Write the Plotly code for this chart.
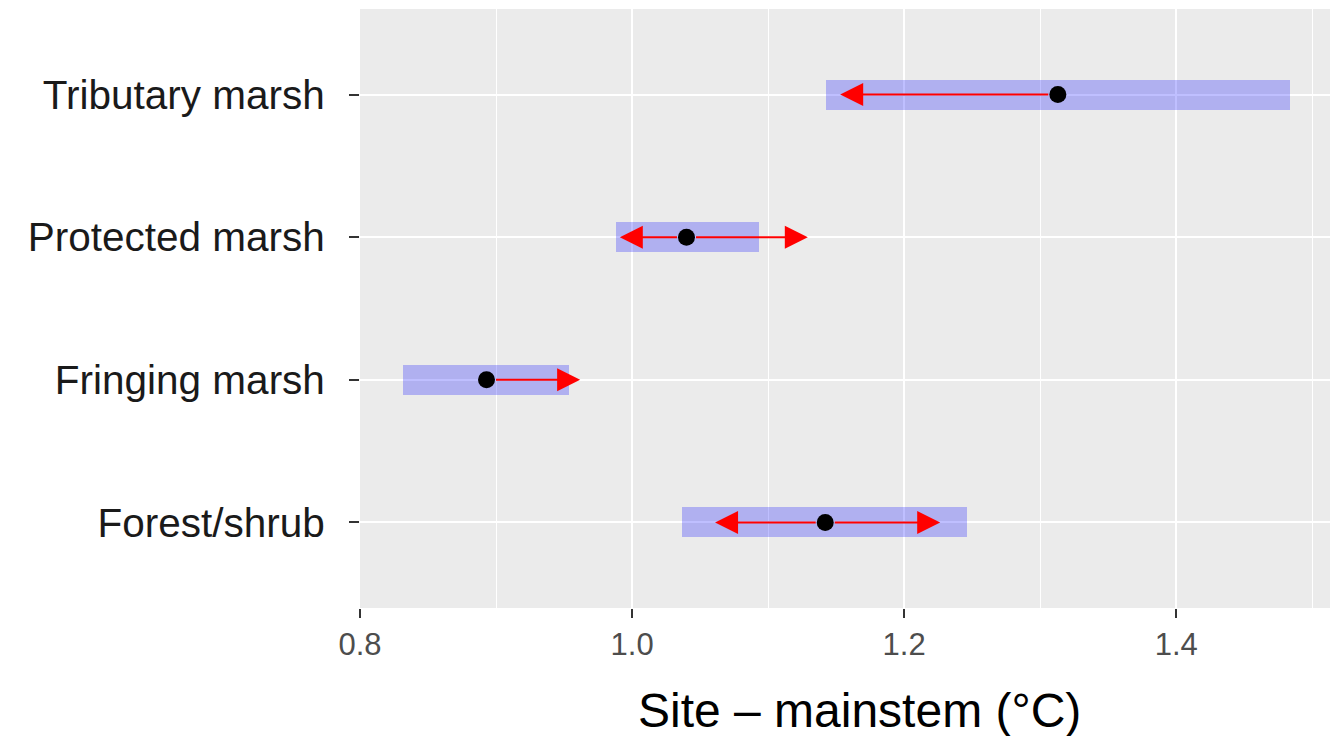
import plotly.graph_objects as go

# Data (bottom to top)
categories = ["Forest/shrub", "Fringing marsh", "Protected marsh", "Tributary marsh"]
emmean = [1.142, 0.893, 1.040, 1.313]
lower_cl = [1.0365, 0.8314, 0.988, 1.1426]
upper_cl = [1.2461, 0.9539, 1.0934, 1.4833]
arrow_left = [1.061, None, 0.991, 1.153]
arrow_right = [1.2265, 0.9618, 1.1292, None]
x_ticks = [0.8, 1.0, 1.2, 1.4]
x_tick_labels = ["0.8", "1.0", "1.2", "1.4"]
x_title = "Site – mainstem (°C)"

ypos = list(range(len(categories)))
FONT = "Liberation Sans, Arial, sans-serif"

fig = go.Figure()
fig.add_trace(go.Bar(
    y=ypos,
    x=[u - l for l, u in zip(lower_cl, upper_cl)],
    base=lower_cl,
    orientation="h",
    width=0.21,
    marker=dict(color="rgba(0,0,255,0.25)", line=dict(width=0)),
    hoverinfo="skip",
))
fig.add_trace(go.Scatter(
    x=emmean, y=ypos, mode="markers",
    marker=dict(color="black", size=17),
    hoverinfo="skip",
))

annotations = []
for i, (m, lt, rt) in enumerate(zip(emmean, arrow_left, arrow_right)):
    for tip in (lt, rt):
        if tip is None:
            continue
        annotations.append(dict(
            x=tip, y=i, ax=m, ay=i, xref="x", yref="y", axref="x", ayref="y",
            text="", showarrow=True, arrowhead=2, arrowsize=2.3, arrowwidth=2,
            arrowcolor="#FF0000", startstandoff=8,
        ))

# x-axis title (slightly right of centre, as in the original)
annotations.append(dict(
    text=x_title, xref="paper", yref="paper", x=0.513, y=0,
    xanchor="center", yanchor="middle", yshift=-102, showarrow=False,
    font=dict(size=48, color="black", family=FONT),
))

# page body has an 8px margin, so the figure is sized to fill the rest of the window
fig.update_layout(
    width=1330, height=728,
    margin=dict(l=352, r=4, t=1, b=128, autoexpand=False),
    paper_bgcolor="white",
    plot_bgcolor="#EBEBEB",
    showlegend=False,
    bargap=0,
    annotations=annotations,
    font=dict(family=FONT),
)
fig.update_xaxes(
    range=[0.8, 1.516], automargin=False,
    tickvals=x_ticks, ticktext=x_tick_labels,
    tickfont=dict(size=31, color="#4D4D4D", family=FONT),
    ticks="outside", ticklen=9, tickwidth=1.5, tickcolor="#333333",
    showgrid=True, gridcolor="white", gridwidth=2,
    minor=dict(dtick=0.1, tick0=0.8, showgrid=True, gridcolor="white", gridwidth=1, ticks=""),
    zeroline=False, showline=False,
)
fig.update_yaxes(
    range=[-0.6, 3.6], automargin=False,
    tickvals=ypos, ticktext=categories,
    tickfont=dict(size=40.5, color="#1A1A1A", family=FONT),
    ticks="outside", ticklen=10, tickwidth=1.5, tickcolor="#333333",
    ticklabelstandoff=16,
    showgrid=True, gridcolor="white", gridwidth=2,
    zeroline=False, showline=False,
)

fig.write_html("out.html")
